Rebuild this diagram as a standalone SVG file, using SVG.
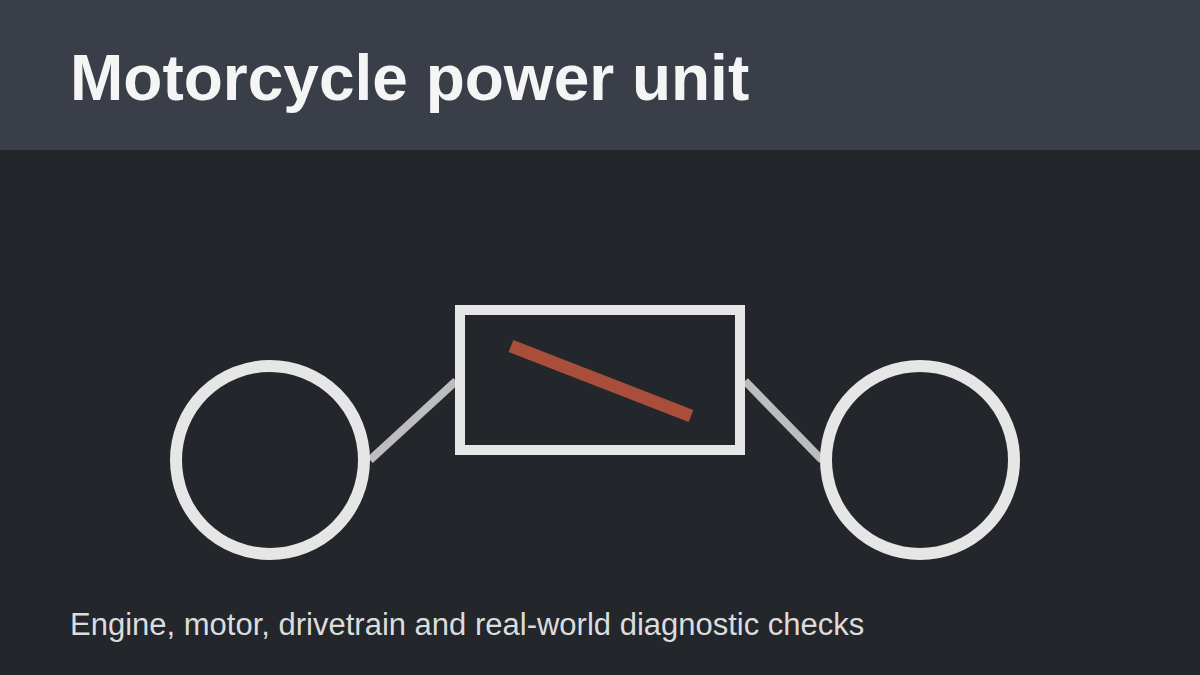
<svg xmlns="http://www.w3.org/2000/svg" width="1200" height="675" viewBox="0 0 1200 675">
<style>
.wheel{fill:none;stroke:#e6e6e6;stroke-width:12}
.link{stroke:#bdbdbd;stroke-width:8;stroke-linecap:butt}
.title{font-family:"Liberation Sans",Arial,sans-serif;font-weight:bold;font-size:64px;fill:#f5f5f5}
.sub{font-family:"Liberation Sans",Arial,sans-serif;font-size:31px;fill:#dcdcdc}
</style>
<rect x="0" y="0" width="1200" height="675" fill="#23262b"/>
<rect x="0" y="0" width="1200" height="150" fill="#3a3e48"/>
<text class="title" x="70" y="100">Motorcycle power unit</text>
<g id="connectors">
<line class="link" x1="370" y1="460" x2="456" y2="381"/>
<line class="link" x1="745" y1="381" x2="822" y2="460"/>
</g>
<g id="rear-wheel"><circle class="wheel" cx="270" cy="460" r="94"/></g>
<g id="engine">
<rect x="460" y="310" width="280" height="140" fill="none" stroke="#e6e6e6" stroke-width="10"/>
<line x1="511" y1="346" x2="691" y2="416" stroke="#a94e3b" stroke-width="13"/>
</g>
<g id="front-wheel"><circle class="wheel" cx="920" cy="460" r="94"/></g>
<text class="sub" x="70" y="635">Engine, motor, drivetrain and real-world diagnostic checks</text>
</svg>
